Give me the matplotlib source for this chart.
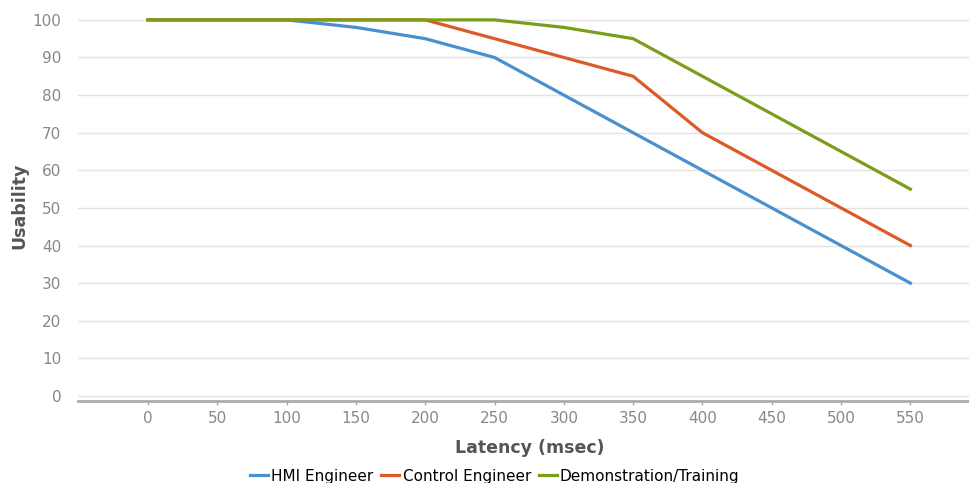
import matplotlib
matplotlib.use("Agg")
import matplotlib.pyplot as plt

latency = [0, 50, 100, 150, 200, 250, 300, 350, 400, 450, 500, 550]
hmi_engineer = [100, 100, 100, 98, 95, 90, 80, 70, 60, 50, 40, 30]
control_engineer = [100, 100, 100, 100, 100, 95, 90, 85, 70, 60, 50, 40]
demo_training = [100, 100, 100, 100, 100, 100, 98, 95, 85, 75, 65, 55]
y_ticks = [0, 10, 20, 30, 40, 50, 60, 70, 80, 90, 100]

series = [
    ("HMI Engineer", hmi_engineer, "#4a8fd0"),
    ("Control Engineer", control_engineer, "#dc5a27"),
    ("Demonstration/Training", demo_training, "#7b9e19"),
]

fig = plt.figure(figsize=(9.7, 4.83), dpi=100)
ax = fig.add_axes([0.0804, 0.170, 0.9196, 0.806])

for name, vals, col in series:
    ax.plot(latency, vals, color=col, lw=2.3, label=name, solid_joinstyle="round")

ax.set_xlim(-50.5, 593)
ax.set_ylim(-1.3, 102.2)
ax.set_xticks(latency)
ax.set_yticks(y_ticks)
ax.grid(axis="y", color="#e3e3e3", lw=1)
ax.set_axisbelow(True)

for s in ["top", "right", "left"]:
    ax.spines[s].set_visible(False)
ax.spines["bottom"].set_color("#aaaaaa")
ax.spines["bottom"].set_linewidth(2)

ax.tick_params(axis="x", colors="#aaaaaa", length=3, width=1, labelcolor="#888888", labelsize=11, pad=4)
ax.tick_params(axis="y", length=0, labelcolor="#888888", labelsize=11, pad=12)

ax.set_xlabel("Latency (msec)", fontsize=12.5, fontweight="bold", color="#555555")
ax.xaxis.set_label_coords(0.506, -0.098)
ax.set_ylabel("Usability", fontsize=12.5, fontweight="bold", color="#555555")
ax.yaxis.set_label_coords(-0.056, 0.5)

fig.legend(loc="lower center", bbox_to_anchor=(0.51, -0.03), ncol=3, frameon=False,
           fontsize=11, handlelength=1.2, handletextpad=0.2, columnspacing=0.5)

fig.savefig("out.png", dpi=100)
